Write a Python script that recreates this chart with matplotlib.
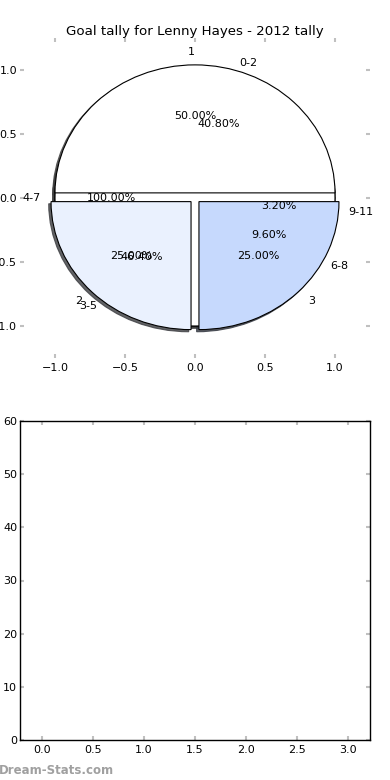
import matplotlib
matplotlib.use("Agg")
import matplotlib.pyplot as plt

title = "Goal tally for Lenny Hayes - 2012 tally"

# pie A
labels_a = ["1", "2", "3"]
values_a = [50, 25, 25]
# pie B
labels_b = ["0-2", "3-5", "6-8", "9-11"]
values_b = [40.8, 46.4, 9.6, 3.2]
# pie C
labels_c = ["4-7"]
values_c = [100]

pie_colors = ["#ffffff", "#eaf1fe", "#c6d9fd", "#a9c5fb"]

fig = plt.figure(figsize=(3.9, 7.8), dpi=100)

ax1 = fig.add_axes([20/390, 1 - 358/780, 350/390, 320/780])
wp = dict(edgecolor="black", linewidth=0.8)
sh = dict(ox=-0.012, oy=-0.012, shade=0.75, alpha=0.8)
tp = dict(fontsize=8)
ax1.pie(values_b, labels=labels_b, autopct="%.2f%%", shadow=sh,
        startangle=0, colors=pie_colors[:4], wedgeprops=wp, textprops=tp)
ax1.pie(values_c, labels=labels_c, autopct="%.2f%%", shadow=sh,
        startangle=0, colors=pie_colors[:1], wedgeprops=wp, textprops=tp)
ax1.pie(values_a, labels=labels_a, autopct="%.2f%%", shadow=sh,
        startangle=0, colors=pie_colors[:3], explode=[0.04, 0.04, 0.04],
        wedgeprops=wp, textprops=tp)
ax1.set_aspect("auto")
ax1.set_frame_on(False)
ax1.set_xlim(-1.25, 1.25)
ax1.set_ylim(-1.25, 1.25)
ax1.set_xticks([-1.0, -0.5, 0.0, 0.5, 1.0])
ax1.set_yticks([-1.0, -0.5, 0.0, 0.5, 1.0])
ax1.set_yticklabels(["\u22121.0", "\u22120.5", "0.0", "0.5", "1.0"])
ax1.tick_params(direction="in", length=3, width=1.5, color="#c0c0c0",
                labelsize=8, top=True, right=True)
ax1.tick_params(axis="y", pad=2)
ax1.set_title(title, fontsize=9.6, pad=2.5)

ax2 = fig.add_axes([20/390, 40/780, 350/390, 319/780])
ax2.set_xlim(-0.22, 3.22)
ax2.set_ylim(0, 60)
ax2.set_xticks([0.0, 0.5, 1.0, 1.5, 2.0, 2.5, 3.0])
ax2.set_yticks([0, 10, 20, 30, 40, 50, 60])
ax2.tick_params(direction="in", length=3, width=1.5, color="#c0c0c0",
                labelsize=8, top=True, right=True)
ax2.tick_params(axis="y", pad=2)
for s in ax2.spines.values():
    s.set_linewidth(1.0)

fig.text(-0.004, 0.004, "Dream-Stats.com", fontsize=8.5, fontweight="bold",
         color="#a0a0a0", ha="left", va="bottom")

fig.savefig("out.png", dpi=100)
